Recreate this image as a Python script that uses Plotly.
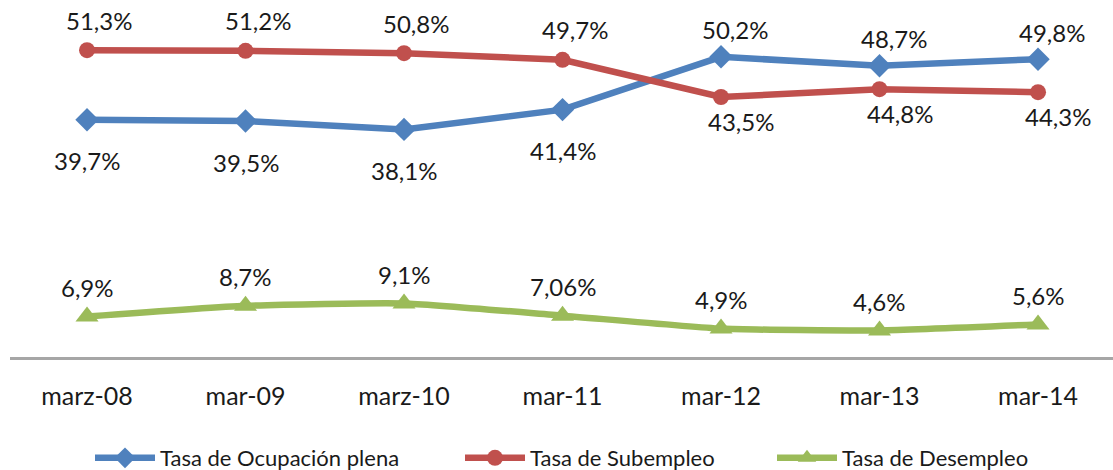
import plotly.graph_objects as go

categories = ["marz-08", "mar-09", "marz-10", "mar-11", "mar-12", "mar-13", "mar-14"]
ocupacion = [39.7, 39.5, 38.1, 41.4, 50.2, 48.7, 49.8]
subempleo = [51.3, 51.2, 50.8, 49.7, 43.5, 44.8, 44.3]
desempleo = [6.9, 8.7, 9.1, 7.06, 4.9, 4.6, 5.6]
ocupacion_labels = ["39,7%", "39,5%", "38,1%", "41,4%", "50,2%", "48,7%", "49,8%"]
subempleo_labels = ["51,3%", "51,2%", "50,8%", "49,7%", "43,5%", "44,8%", "44,3%"]
desempleo_labels = ["6,9%", "8,7%", "9,1%", "7,06%", "4,9%", "4,6%", "5,6%"]

BLUE = "#4F81BD"
RED = "#C0504D"
GREEN = "#9BBB59"
FONT = "Lato"
TXT = "#1a1a1a"

x = list(range(len(categories)))

fig = go.Figure()
fig.add_trace(go.Scatter(
    x=x, y=ocupacion, name="Tasa de Ocupación plena", mode="lines+markers",
    line=dict(color=BLUE, width=6.5), marker=dict(symbol="diamond", size=18, color=BLUE),
    cliponaxis=False, legend="legend"))
fig.add_trace(go.Scatter(
    x=x, y=subempleo, name="Tasa de Subempleo", mode="lines+markers",
    line=dict(color=RED, width=6.5), marker=dict(symbol="circle", size=16, color=RED),
    cliponaxis=False, legend="legend2"))
fig.add_trace(go.Scatter(
    x=x, y=desempleo, name="Tasa de Desempleo", mode="lines+markers",
    line=dict(color=GREEN, width=6.5, shape="spline", smoothing=0.5),
    marker=dict(symbol="triangle-up", size=20, color=GREEN),
    cliponaxis=False, legend="legend3"))

annotations = []
for i in x:
    blue_above = ocupacion[i] > subempleo[i]
    annotations.append(dict(
        x=i, y=ocupacion[i], text=ocupacion_labels[i], showarrow=False,
        xshift=14 if blue_above else 0, yshift=27 if blue_above else -41))
    annotations.append(dict(
        x=i, y=subempleo[i], text=subempleo_labels[i], showarrow=False,
        xshift=12 if not blue_above else 20, yshift=30 if not blue_above else -24))
    annotations.append(dict(
        x=i, y=desempleo[i], text=desempleo_labels[i], showarrow=False,
        yshift=29))
for a in annotations:
    a["font"] = dict(family=FONT, size=24, color=TXT)

legend_style = dict(orientation="h", xanchor="left", yanchor="middle",
                    xref="container", yref="container", y=12 / 470,
                    font=dict(family=FONT, size=22, color=TXT), itemwidth=60,
                    bgcolor="rgba(0,0,0,0)")

fig.update_layout(
    width=1113, height=470,
    margin=dict(l=10, r=0, t=28, b=112),
    paper_bgcolor="white", plot_bgcolor="white",
    showlegend=True,
    legend=dict(legend_style, x=90 / 1113),
    legend2=dict(legend_style, x=460 / 1113),
    legend3=dict(legend_style, x=772 / 1113),
    annotations=annotations,
    hovermode=False,
)
fig.update_xaxes(
    range=[-0.486, 6.473], tickmode="array", tickvals=x, ticktext=categories,
    showgrid=False, zeroline=False, showline=False,
    tickfont=dict(family=FONT, size=25, color=TXT), ticklabelstandoff=21)
fig.update_yaxes(
    range=[0, 55], showgrid=False, showticklabels=False, zeroline=True,
    zerolinecolor="#a6a6a6", zerolinewidth=2.5)

fig.write_html("out.html", config={"displayModeBar": False},
               post_script="document.body.style.margin='0';document.body.style.overflow='hidden';")
